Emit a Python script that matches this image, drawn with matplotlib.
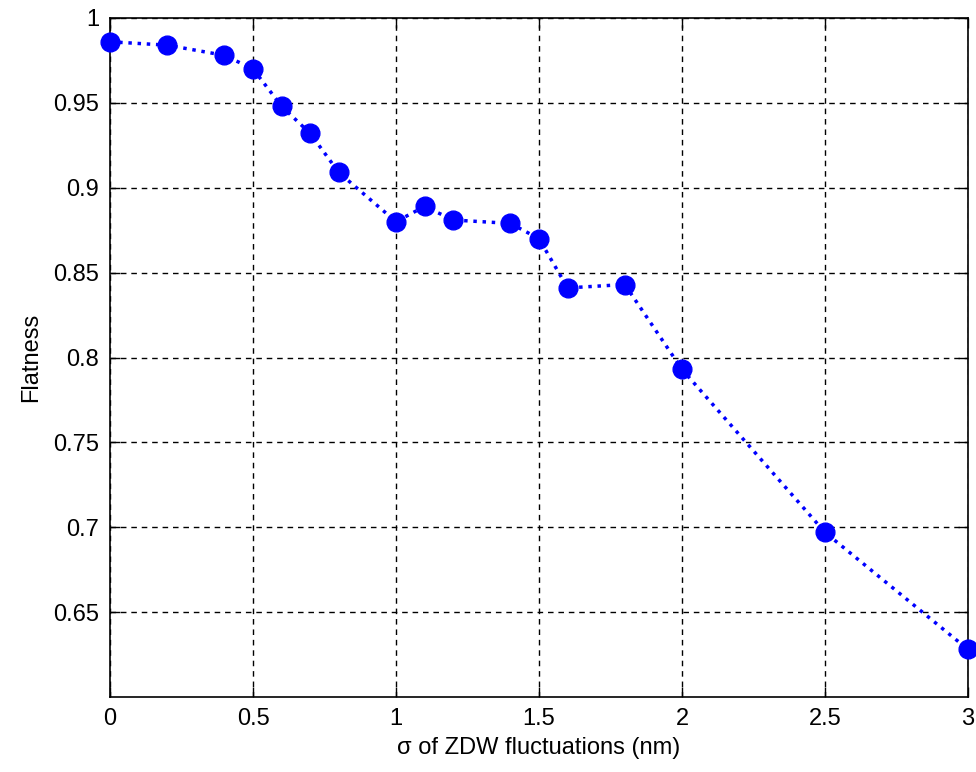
import matplotlib.pyplot as plt

# datos
sigma = [0, 0.2, 0.4, 0.5, 0.6, 0.7, 0.8, 1.0, 1.1, 1.2, 1.4, 1.5, 1.6, 1.8, 2.0, 2.5, 3.0]
flatness = [0.986, 0.984, 0.978, 0.970, 0.948, 0.932, 0.909, 0.880, 0.889, 0.881,
            0.879, 0.870, 0.841, 0.843, 0.793, 0.697, 0.628]
xticks = [0, 0.5, 1, 1.5, 2, 2.5, 3]
xlabels = ['0', '0.5', '1', '1.5', '2', '2.5', '3']
yticks = [0.65, 0.7, 0.75, 0.8, 0.85, 0.9, 0.95, 1]
ylabels = ['0.65', '0.7', '0.75', '0.8', '0.85', '0.9', '0.95', '1']

plt.rcParams['font.family'] = ['Liberation Sans', 'DejaVu Sans']

fig = plt.figure(figsize=(9.76, 7.72), dpi=100)
ax = fig.add_axes([110 / 976, 75 / 772, 858 / 976, 679 / 772])

ax.plot(sigma, flatness, linestyle=':', color='blue', lw=2.5,
        marker='o', markersize=13.5, clip_on=False, zorder=3)

ax.set_xlim(0, 3)
ax.set_ylim(0.6, 1)
ax.set_xticks(xticks)
ax.set_xticklabels(xlabels)
ax.set_yticks(yticks)
ax.set_yticklabels(ylabels)
ax.tick_params(direction='in', length=7, width=1, labelsize=17,
               top=True, right=True, pad=8)
ax.grid(True, color='black', linestyle=(0, (4, 3.5)), lw=1)
for s in ax.spines.values():
    s.set_linewidth(1.2)

ax.set_xlabel('σ of ZDW fluctuations (nm)', fontsize=17, labelpad=5)
ax.set_ylabel('Flatness', fontsize=17, labelpad=8)

fig.savefig('out.png', dpi=100)
